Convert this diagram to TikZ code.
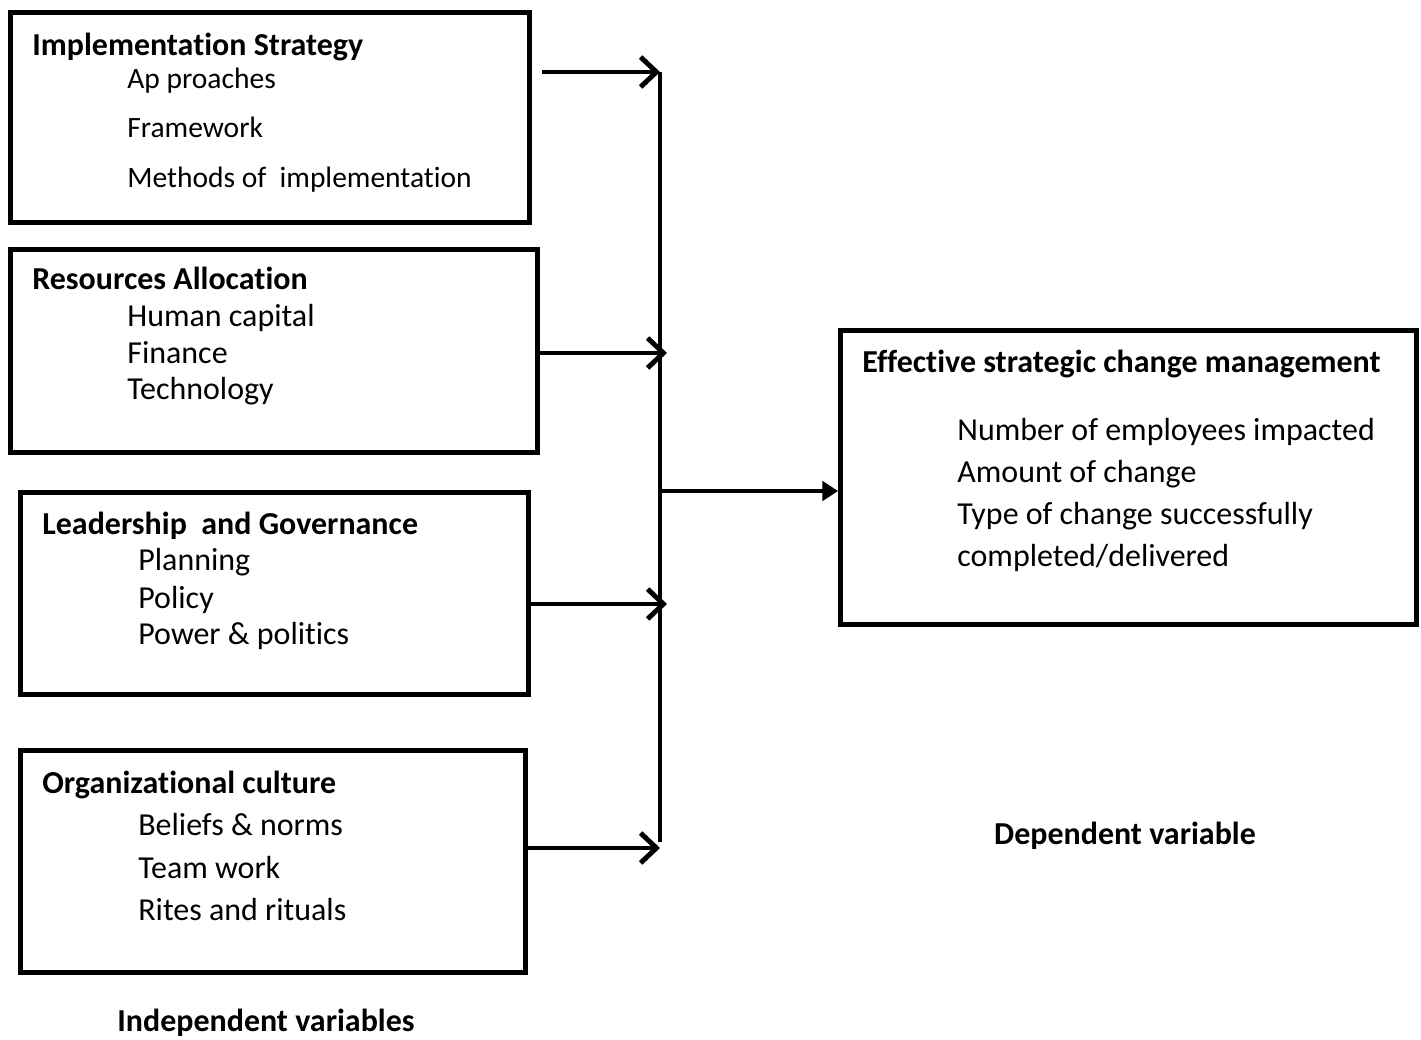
\documentclass[tikz,border=0pt]{standalone}
\usepackage{fontspec}
\setmainfont{Carlito}[Ligatures=NoCommon]
\usetikzlibrary{arrows.meta}
\tikzset{
  varbox/.style={draw, line width=2.8pt, inner sep=0pt},
  item/.style={anchor=base west, inner sep=0pt, font=\fontsize{18.2pt}{22pt}\selectfont},
  small item/.style={item, font=\fontsize{16.8pt}{20pt}\selectfont},
  head/.style={item, font=\fontsize{18.2pt}{22pt}\selectfont\bfseries},
  feed/.style={line width=2.8pt, -{Straight Barb[length=9pt,width=17pt,line width=2.8pt]}},
  result/.style={line width=2.8pt, -{Triangle[length=9pt,width=11pt]}}
}
\begin{document}
\begin{tikzpicture}[x=0.02cm,y=-0.02cm]
\useasboundingbox (0,0) rectangle (1421,1040);
%boxes
\node[varbox, minimum width=10.38cm, minimum height=4.2cm] (box1) at (270,117.5) {};
\node[varbox, minimum width=10.54cm, minimum height=4.06cm] (box2) at (274,351) {};
\node[varbox, minimum width=10.16cm, minimum height=4.04cm] (box3) at (274.5,593.5) {};
\node[varbox, minimum width=10.1cm, minimum height=4.44cm] (box4) at (273,861.5) {};
\node[varbox, minimum width=11.52cm, minimum height=5.88cm] (out) at (1128.5,477.5) {};
%texts box 1
\node[head] (h1) at (32,56) {Implementation Strategy};
\node[small item] (a1) at (127,89) {Ap proaches};
\node[small item] (a2) at (127,138) {Framework};
\node[small item] (a3) at (127,188) {Methods of~ implementation};
%texts box 2
\node[head] (h2) at (32,290) {Resources Allocation};
\node[item] (b1) at (127,327) {Human capital};
\node[item] (b2) at (127,364) {Finance};
\node[item] (b3) at (127,400) {Technology};
%texts box 3
\node[head] (h3) at (42,535) {Leadership~ and Governance};
\node[item] (c1) at (138,571) {Planning};
\node[item] (c2) at (138,608) {Policy};
\node[item] (c3) at (138,644) {Power \& politics};
%texts box 4
\node[head] (h4) at (42,793) {Organizational culture};
\node[item] (d1) at (138,835) {Beliefs \& norms};
\node[item] (d2) at (138,878) {Team work};
\node[item] (d3) at (138,920) {Rites and rituals};
%texts result
\node[head] (h5) at (862,373) {Effective strategic change management};
\node[item] (e1) at (957,441) {Number of employees impacted};
\node[item] (e2) at (957,483) {Amount of change};
\node[item] (e3) at (957,525) {Type of change successfully};
\node[item] (e4) at (957,567) {completed/delivered};
%captions
\node[head, anchor=base] (dep) at (1125,844) {Dependent variable};
\node[head, anchor=base] (indep) at (266,1031) {Independent variables};
%arrows
\coordinate (p1) at (660,72);
\coordinate (p2) at (667,353);
\coordinate (p3) at (667,604);
\coordinate (p4) at (660,848);
\coordinate (pm) at (660,491);
\draw[line width=2.8pt] (660,72) -- (660,842);
\draw[feed] ([xshift=6pt]box1.east |- p1) -- (p1);
\draw[feed] (box2.east |- p2) -- (p2);
\draw[feed] (box3.east |- p3) -- (p3);
\draw[feed] (box4.east |- p4) -- (p4);
\draw[result] (pm) -- (out.west |- pm);
\end{tikzpicture}
\end{document}
